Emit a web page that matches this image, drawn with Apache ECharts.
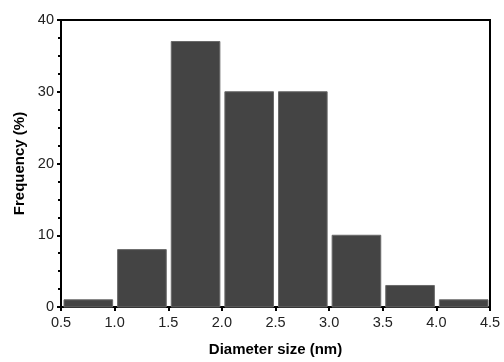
<!DOCTYPE html>
<html><head><meta charset="utf-8">
<script src="https://cdn.jsdelivr.net/npm/echarts@6/dist/echarts.min.js"></script>
<style>html,body{margin:0;padding:0;background:#fff}#c{width:504px;height:362px}</style>
</head><body><div id="c"></div>
<script>
const binStart = [0.5, 1.0, 1.5, 2.0, 2.5, 3.0, 3.5, 4.0];
const binEnd   = [1.0, 1.5, 2.0, 2.5, 3.0, 3.5, 4.0, 4.5];
const frequency = [1, 8, 37, 30, 30, 10, 3, 1];
const xTicks = [0.5, 1.0, 1.5, 2.0, 2.5, 3.0, 3.5, 4.0, 4.5];
const yTicks = [0, 10, 20, 30, 40];

const data = binStart.map((s, i) => [s, binEnd[i], frequency[i]]);
const chart = echarts.init(document.getElementById('c'));
const font = 'Liberation Sans, Arial, sans-serif';
chart.setOption({
  animation: false,
  grid: {left: 61, right: 14, top: 20, bottom: 51, show: true, borderColor: '#000', borderWidth: 2, backgroundColor: 'transparent'},
  xAxis: {
    type: 'value', min: 0.5, max: 4.5, interval: 0.5,
    name: 'Diameter size (nm)', nameLocation: 'middle', nameGap: 35,
    nameTextStyle: {fontFamily: font, fontWeight: 'bold', fontSize: 15, color: '#000'},
    axisLine: {show: true, onZero: false, lineStyle: {color: '#000', width: 2}},
    axisTick: {show: true, length: 4, lineStyle: {color: '#000', width: 2}},
    splitLine: {show: false},
    axisLabel: {fontFamily: font, fontSize: 14.5, color: '#222', margin: 8,
      formatter: v => v.toFixed(1)}
  },
  yAxis: {
    type: 'value', min: 0, max: 40, interval: 10,
    name: 'Frequency (%)', nameLocation: 'middle', nameGap: 33,
    nameTextStyle: {fontFamily: font, fontWeight: 'bold', fontSize: 15, color: '#000'},
    axisLine: {show: true, lineStyle: {color: '#000', width: 2}},
    axisTick: {show: true, length: 4, lineStyle: {color: '#000', width: 2}},
    minorTick: {show: true, splitNumber: 4, length: 3, lineStyle: {color: '#000', width: 2}},
    splitLine: {show: false},
    axisLabel: {fontFamily: font, fontSize: 14.5, color: '#222', margin: 7}
  },
  series: [{
    type: 'custom',
    data: data,
    encode: {x: [0, 1], y: 2},
    renderItem: function (params, api) {
      const p0 = api.coord([api.value(0), api.value(2)]);
      const p1 = api.coord([api.value(1), 0]);
      return {
        type: 'rect',
        shape: {x: p0[0] + 3, y: p0[1], width: (p1[0] - p0[0]) - 5, height: p1[1] - p0[1]},
        style: {fill: '#444444', stroke: '#6a6a6a', lineWidth: 1}
      };
    }
  }]
});
</script></body></html>
